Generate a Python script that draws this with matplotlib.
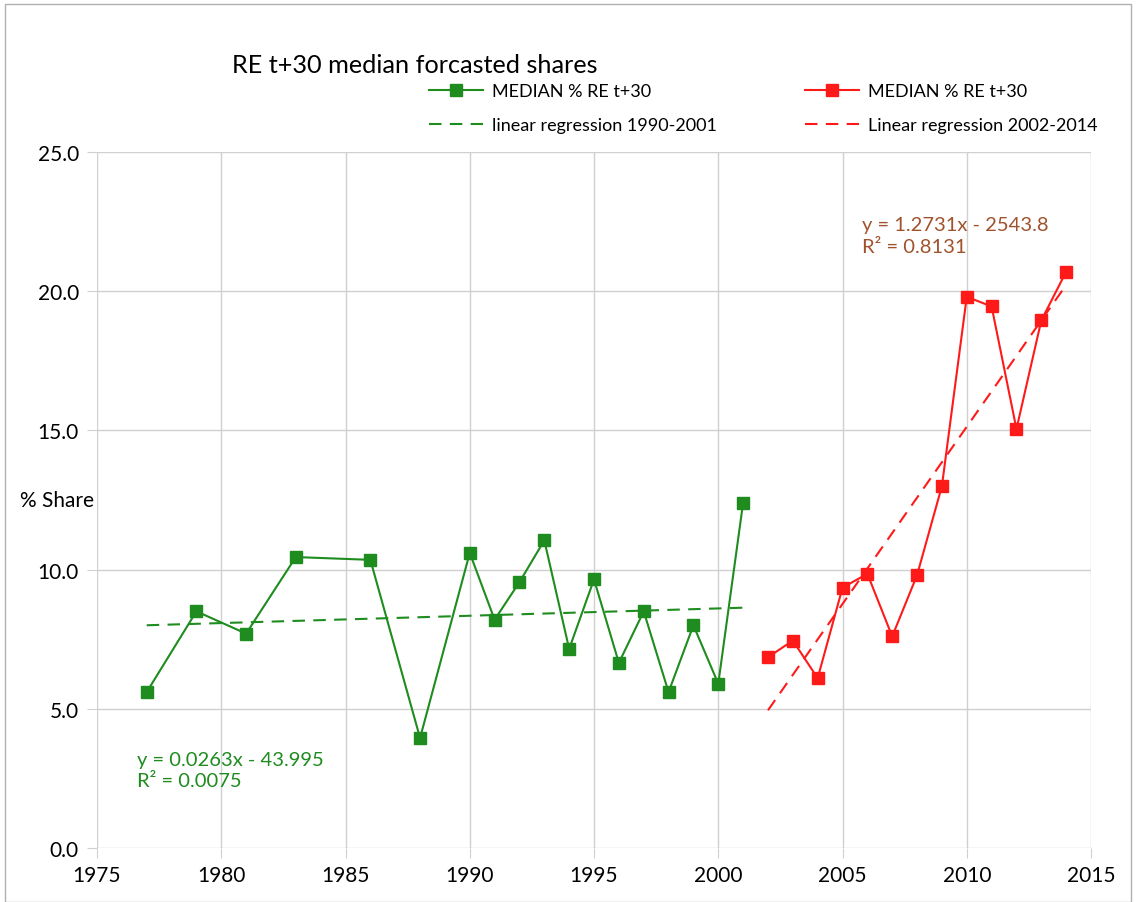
import numpy as np
import matplotlib.pyplot as plt

plt.rcParams['font.family'] = ['Lato', 'DejaVu Sans']

years_a = [1977, 1979, 1981, 1983, 1986, 1988, 1990, 1991, 1992, 1993, 1994,
           1995, 1996, 1997, 1998, 1999, 2000, 2001]
share_a = [5.6, 8.5, 7.7, 10.45, 10.35, 3.95, 10.6, 8.2, 9.55, 11.05, 7.15,
           9.65, 6.65, 8.5, 5.6, 8.0, 5.9, 12.4]

years_b = [2002, 2003, 2004, 2005, 2006, 2007, 2008, 2009, 2010, 2011, 2012,
           2013, 2014]
share_b = [6.85, 7.45, 6.1, 9.35, 9.85, 7.6, 9.8, 13.0, 19.8, 19.45, 15.05,
           18.95, 20.7]

# trendline coefficients as printed on the chart
slope_a, icpt_a = 0.0263, -43.995
slope_b, icpt_b = 1.2731, -2543.8

green = '#1e8c1e'
red = '#ff1a1a'

fig = plt.figure(figsize=(11.36, 9.03), dpi=100)
ax = fig.add_axes([0.0854, 0.0598, 0.875, 0.7708])

la, = ax.plot(years_a, share_a, color=green, lw=1.5, marker='s', ms=9,
              label='MEDIAN % RE t+30')
xa = np.array([years_a[0], years_a[-1]])
ta, = ax.plot(xa, slope_a * xa + icpt_a, color=green, lw=1.5, ls=(0, (6, 4)),
              label='linear regression 1990-2001')
lb, = ax.plot(years_b, share_b, color=red, lw=1.5, marker='s', ms=9,
              label='MEDIAN % RE t+30')
xb = np.array([years_b[0], years_b[-1]])
tb, = ax.plot(xb, slope_b * xb + icpt_b, color=red, lw=1.5, ls=(0, (6, 4)),
              label='Linear regression 2002-2014')

ax.set_xlim(1975, 2015)
ax.set_ylim(0, 25)
ax.set_xticks(range(1975, 2016, 5))
ax.set_yticks(np.arange(0, 25.1, 5))
ax.set_yticklabels([f'{v:.1f}' for v in np.arange(0, 25.1, 5)])
ax.grid(True, color='#d0d0d0', lw=1)
ax.set_axisbelow(True)
for s in ax.spines.values():
    s.set_visible(False)
ax.tick_params(axis='both', labelsize=15, length=7, color='#d0d0d0')
ax.tick_params(axis='y', pad=6)
ax.tick_params(axis='x', pad=5)

ax.text(-0.040, 0.5, '% Share', transform=ax.transAxes, fontsize=15,
        ha='center', va='center')

ax.text(1976.6, 2.8, 'y = 0.0263x - 43.995\nR² = 0.0075', color=green,
        fontsize=14.5, va='center', linespacing=1.35)
ax.text(2005.8, 22.0, 'y = 1.2731x - 2543.8\nR² = 0.8131', color='#a0522d',
        fontsize=14.5, va='center', linespacing=1.35)

fig.text(0.204, 0.928, 'RE t+30 median forcasted shares', fontsize=18.2,
         ha='left', va='center')

fig.legend(handles=[la, ta, lb, tb], ncol=2, loc='center left',
           bbox_to_anchor=(0.363, 0.879), frameon=False, fontsize=13,
           handlelength=3.0, handletextpad=0.5, columnspacing=4.9,
           labelspacing=1.0)

# outer frame
fig.patches.append(plt.Rectangle((0.004, 0.0), 0.992, 0.994, fill=False,
                                 edgecolor='#b0b0b0', lw=1,
                                 transform=fig.transFigure))

fig.savefig('out.png', dpi=100)
